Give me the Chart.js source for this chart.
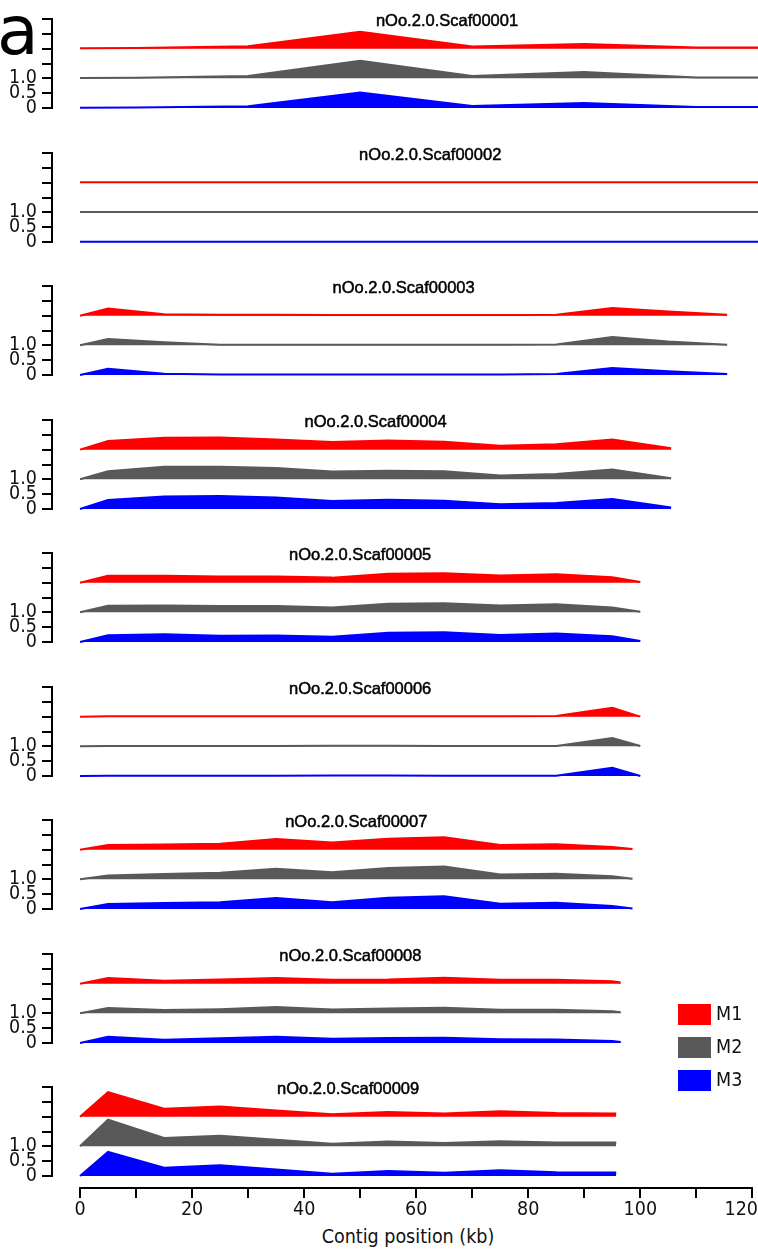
<!DOCTYPE html>
<html>
<head>
<meta charset="utf-8">
<script src="https://cdn.jsdelivr.net/npm/chart.js@4.4.1/dist/chart.umd.min.js"></script>
<style>
  html, body { margin: 0; padding: 0; background: #fff; overflow: hidden; }
  #page { position: relative; width: 758px; height: 1249px; }
  #page canvas { position: absolute; left: 0; }
  #figLetter { position: absolute; left: -3px; top: -3px; font: 68px/68px "DejaVu Sans", sans-serif; color: #000; }
  #xTitle { position: absolute; left: 308px; width: 200px; top: 1225px; text-align: center;
            font: 19.5px/24px "DejaVu Sans Condensed", "DejaVu Sans", sans-serif; color: #111; }
  .legend-item { position: absolute; left: 678px; height: 21px; }
  .legend-item .box { position: absolute; left: 0; top: 0; width: 33px; height: 21px; }
  .legend-item .txt { position: absolute; left: 38px; top: -1px; font: 19.5px/22px "DejaVu Sans Condensed", "DejaVu Sans", sans-serif; color: #111; }
</style>
</head>
<body>
<div id="page">
  <div id="figLetter">a</div>
  <div id="xTitle">Contig position (kb)</div>
</div>
<script>
// series
const seriesNames = ['M1', 'M2', 'M3'];
const seriesColors = ['#ff0000', '#595959', '#0000ff'];

// axes
const yTickValues = [0, 0.5, 1.0, 1.5, 2.0, 2.5, 3.0];
const yTickLabels = ['0', '0.5', '1.0', '', '', '', ''];
const xTickValues = [0, 10, 20, 30, 40, 50, 60, 70, 80, 90, 100, 110, 120];
// last label padded so it stays inside the figure, as in the original
const xTickLabels = ['0', '', '20', '', '40', '', '60', '', '80', '', '100', '', '120\u00a0\u00a0\u00a0\u00a0'];

// scaffolds
const panelNames = ['nOo.2.0.Scaf00001', 'nOo.2.0.Scaf00002', 'nOo.2.0.Scaf00003',
  'nOo.2.0.Scaf00004', 'nOo.2.0.Scaf00005', 'nOo.2.0.Scaf00006',
  'nOo.2.0.Scaf00007', 'nOo.2.0.Scaf00008', 'nOo.2.0.Scaf00009'];
const panelLengths = [131, 125, 115.5, 105.5, 100, 100, 98.6, 96.5, 95.7];

const scaf1Pos = [0, 10, 30, 50, 70, 90, 110, 130];
const scaf1M1 = [0.01, 0.02, 0.08, 0.57, 0.07, 0.16, 0.04, 0.04];
const scaf1M2 = [0.01, 0.02, 0.08, 0.59, 0.08, 0.21, 0.03, 0.03];
const scaf1M3 = [0.01, 0.02, 0.06, 0.52, 0.07, 0.17, 0.03, 0.03];

const scaf2Pos = [0, 5, 15, 25, 35, 45, 55, 65, 75, 85, 95, 105, 115, 125];
const scaf2M1 = [0.01, 0.01, 0.01, 0.01, 0.01, 0.01, 0.01, 0.01, 0.01, 0.01, 0.01, 0.01, 0.01, 0.01];
const scaf2M2 = [0.01, 0.01, 0.01, 0.01, 0.01, 0.01, 0.01, 0.01, 0.01, 0.01, 0.01, 0.01, 0.01, 0.01];
const scaf2M3 = [0.01, 0.01, 0.01, 0.01, 0.01, 0.01, 0.01, 0.01, 0.01, 0.01, 0.01, 0.01, 0.01, 0.01];

const scaf3Pos = [0, 5, 15, 25, 35, 45, 55, 65, 75, 85, 95, 105, 115.5];
const scaf3M1 = [0, 0.24, 0.05, 0.03, 0.03, 0.02, 0.02, 0.02, 0.02, 0.03, 0.26, 0.14, 0.03];
const scaf3M2 = [0, 0.21, 0.10, 0.02, 0.02, 0.02, 0.02, 0.02, 0.02, 0.03, 0.28, 0.13, 0.02];
const scaf3M3 = [0, 0.21, 0.04, 0.02, 0.02, 0.02, 0.02, 0.02, 0.02, 0.03, 0.24, 0.13, 0.03];

const scaf4Pos = [0, 5, 15, 25, 35, 45, 55, 65, 75, 85, 95, 105.5];
const scaf4M1 = [0, 0.29, 0.40, 0.41, 0.34, 0.26, 0.31, 0.27, 0.13, 0.18, 0.34, 0.05];
const scaf4M2 = [0, 0.27, 0.42, 0.42, 0.38, 0.26, 0.29, 0.27, 0.13, 0.18, 0.33, 0.04];
const scaf4M3 = [0, 0.30, 0.42, 0.44, 0.39, 0.27, 0.31, 0.28, 0.16, 0.20, 0.34, 0.05];

const scaf5Pos = [0, 5, 15, 25, 35, 45, 55, 65, 75, 85, 95, 100];
const scaf5M1 = [0, 0.23, 0.23, 0.21, 0.21, 0.17, 0.30, 0.32, 0.24, 0.28, 0.18, 0.02];
const scaf5M2 = [0, 0.22, 0.23, 0.21, 0.21, 0.16, 0.29, 0.31, 0.23, 0.27, 0.16, 0.02];
const scaf5M3 = [0, 0.23, 0.26, 0.21, 0.22, 0.18, 0.31, 0.33, 0.24, 0.29, 0.19, 0.03];

const scaf6Pos = [0, 5, 15, 25, 35, 45, 55, 65, 75, 85, 95, 100];
const scaf6M1 = [0, 0.01, 0.01, 0.01, 0.01, 0.01, 0.01, 0.01, 0.01, 0.02, 0.30, 0.00];
const scaf6M2 = [0, 0.01, 0.01, 0.01, 0.01, 0.02, 0.02, 0.01, 0.01, 0.01, 0.28, 0.01];
const scaf6M3 = [0, 0.01, 0.01, 0.01, 0.01, 0.02, 0.02, 0.01, 0.01, 0.01, 0.28, 0.00];

const scaf7Pos = [0, 5, 15, 25, 35, 45, 55, 65, 75, 85, 95, 98.6];
const scaf7M1 = [0, 0.16, 0.17, 0.20, 0.36, 0.24, 0.37, 0.42, 0.16, 0.18, 0.09, 0.02];
const scaf7M2 = [0, 0.13, 0.18, 0.22, 0.36, 0.24, 0.38, 0.43, 0.16, 0.19, 0.10, 0.02];
const scaf7M3 = [0, 0.17, 0.20, 0.23, 0.37, 0.23, 0.38, 0.43, 0.18, 0.21, 0.10, 0.02];

const scaf8Pos = [0, 5, 15, 25, 35, 45, 55, 65, 75, 85, 95, 96.5];
const scaf8M1 = [0, 0.19, 0.10, 0.14, 0.19, 0.13, 0.14, 0.20, 0.13, 0.13, 0.08, 0.04];
const scaf8M2 = [0, 0.18, 0.11, 0.14, 0.21, 0.13, 0.16, 0.19, 0.12, 0.12, 0.07, 0.04];
const scaf8M3 = [0, 0.21, 0.11, 0.16, 0.21, 0.14, 0.17, 0.18, 0.13, 0.12, 0.07, 0.03];

const scaf9Pos = [0, 5, 15, 25, 35, 45, 55, 65, 75, 85, 95, 95.7];
const scaf9M1 = [0, 0.83, 0.27, 0.34, 0.21, 0.08, 0.16, 0.11, 0.18, 0.12, 0.11, 0.11];
const scaf9M2 = [0, 0.90, 0.28, 0.36, 0.22, 0.09, 0.16, 0.11, 0.17, 0.13, 0.13, 0.13];
const scaf9M3 = [0, 0.81, 0.28, 0.36, 0.22, 0.08, 0.17, 0.11, 0.19, 0.13, 0.12, 0.12];

const panelPos = [scaf1Pos, scaf2Pos, scaf3Pos, scaf4Pos, scaf5Pos, scaf6Pos, scaf7Pos, scaf8Pos, scaf9Pos];
const panelSeries = [
  [scaf1M1, scaf1M2, scaf1M3], [scaf2M1, scaf2M2, scaf2M3], [scaf3M1, scaf3M2, scaf3M3],
  [scaf4M1, scaf4M2, scaf4M3], [scaf5M1, scaf5M2, scaf5M3], [scaf6M1, scaf6M2, scaf6M3],
  [scaf7M1, scaf7M2, scaf7M3], [scaf8M1, scaf8M2, scaf8M3], [scaf9M1, scaf9M2, scaf9M3]
];

// layout
const W = 758;
const FIRST_ZERO_Y = 108;
const PANEL_STEP = 133.5;
const PLOT_H = 89;
const PAD_TOP = 14, PAD_BOTTOM = 14;
const SERIES_BASE = [2, 1, 0];
const AXIS_FONT = { family: '"DejaVu Sans Condensed", "DejaVu Sans", sans-serif', size: 19.5 };

Chart.defaults.devicePixelRatio = 1;

// title centred over the contig
const panelTitle = {
  id: 'panelTitle',
  afterDraw(chart, args, opts) {
    const ctx = chart.ctx;
    const x = chart.scales.x.getPixelForValue(opts.length / 2);
    const y = chart.chartArea.top + 2;
    ctx.save();
    ctx.font = '16.5px "Liberation Sans", Arial, sans-serif';
    ctx.fillStyle = '#000';
    ctx.strokeStyle = '#000';
    ctx.lineWidth = 0.5;
    ctx.textAlign = 'center';
    ctx.textBaseline = 'middle';
    ctx.fillText(opts.text, x, y);
    ctx.strokeText(opts.text, x, y);
    ctx.restore();
  }
};

const page = document.getElementById('page');

panelNames.forEach((name, i) => {
  const zeroY = FIRST_ZERO_Y + PANEL_STEP * i;
  const canvas = document.createElement('canvas');
  canvas.width = W;
  canvas.height = PLOT_H + PAD_TOP + PAD_BOTTOM;
  canvas.style.top = Math.round(zeroY - PLOT_H - PAD_TOP) + 'px';
  page.appendChild(canvas);

  const datasets = panelSeries[i].map((vals, s) => ({
    label: seriesNames[s],
    data: panelPos[i].map((x, k) => ({ x: x, y: SERIES_BASE[s] + vals[k] })),
    borderColor: seriesColors[s],
    backgroundColor: seriesColors[s],
    borderWidth: 2,
    pointRadius: 0,
    tension: 0,
    fill: { value: SERIES_BASE[s] },
    clip: 8
  }));

  new Chart(canvas, {
    type: 'line',
    data: { datasets },
    plugins: [panelTitle],
    options: {
      responsive: false,
      animation: false,
      events: [],
      layout: { padding: { top: PAD_TOP, bottom: PAD_BOTTOM, left: 0, right: 0 } },
      plugins: {
        legend: { display: false },
        tooltip: { enabled: false },
        panelTitle: { text: name, length: panelLengths[i] }
      },
      scales: {
        x: { type: 'linear', min: -5, max: 121, display: false },
        y: {
          type: 'linear', min: 0, max: 3,
          afterBuildTicks: axis => { axis.ticks = yTickValues.map(v => ({ value: v })); },
          afterFit: s => { s.width = 52; s.paddingTop = 0; s.paddingBottom = 0; },
          ticks: {
            callback: (v, idx) => yTickLabels[idx],
            font: AXIS_FONT, color: '#111', padding: 5, autoSkip: false
          },
          grid: { drawOnChartArea: false, drawTicks: true, tickLength: 10, color: '#000', lineWidth: 2 },
          border: { display: true, color: '#000', width: 2 }
        }
      }
    }
  });
});

// shared x axis
const axisCanvas = document.createElement('canvas');
axisCanvas.width = W;
axisCanvas.height = 67;
axisCanvas.style.top = '1182px';
page.appendChild(axisCanvas);

new Chart(axisCanvas, {
  type: 'line',
  data: { datasets: [] },
  options: {
    responsive: false,
    animation: false,
    events: [],
    layout: { padding: { left: 80, right: 5.6, top: 0, bottom: 0 } },
    plugins: { legend: { display: false }, tooltip: { enabled: false } },
    scales: {
      x: {
        type: 'linear', min: 0, max: 120,
        afterBuildTicks: axis => { axis.ticks = xTickValues.map(v => ({ value: v })); },
        afterFit: s => { s.height = 61; s.paddingLeft = 0; s.paddingRight = 0; },
        ticks: {
          callback: (v, idx) => xTickLabels[idx],
          font: AXIS_FONT, color: '#111', padding: 0, maxRotation: 0, autoSkip: false
        },
        grid: { drawOnChartArea: false, drawTicks: true, tickLength: 10, color: '#000', lineWidth: 2 },
        border: { display: true, color: '#000', width: 2 }
      },
      y: { display: false, min: 0, max: 1 }
    }
  }
});

// legend
seriesNames.forEach((name, s) => {
  const item = document.createElement('div');
  item.className = 'legend-item';
  item.style.top = (1004 + 33 * s) + 'px';
  item.innerHTML = `<div class="box" style="background:${seriesColors[s]}"></div><div class="txt">${name}</div>`;
  page.appendChild(item);
});
</script>
</body>
</html>
